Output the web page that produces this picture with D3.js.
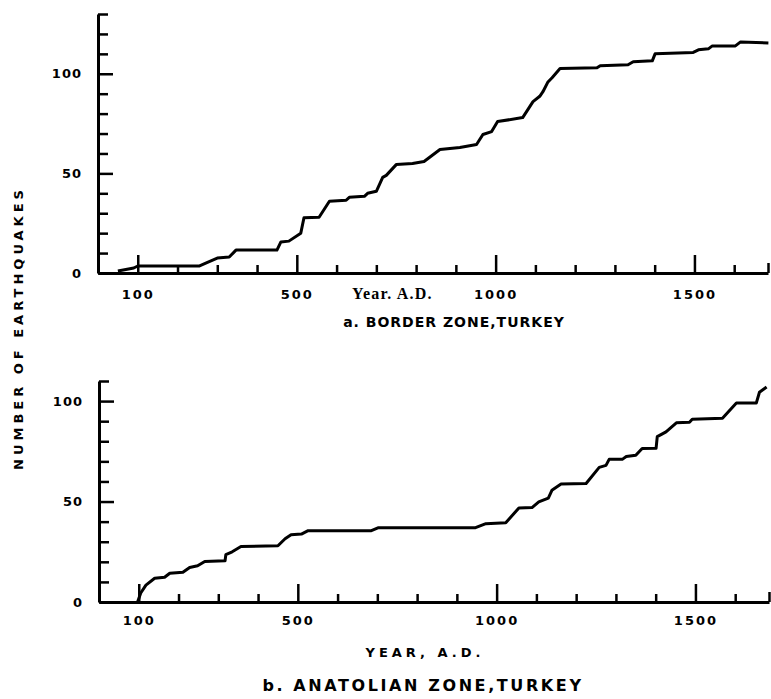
<!DOCTYPE html>
<html>
<head>
<meta charset="utf-8">
<script src="https://cdn.jsdelivr.net/npm/d3@7"></script>
<style>
  body { margin: 0; background: #fff; }
  svg text { font-family: "DejaVu Sans", sans-serif; font-weight: bold; fill: #000; }
</style>
</head>
<body>
<svg id="chart" width="771" height="699"></svg>
<script>
// cumulative number of earthquakes
const borderYears  = [50, 90, 100, 254, 271, 300, 330, 347, 450, 460, 480, 510, 518, 556, 582, 624, 632, 670, 678, 700, 716, 725, 750, 791, 820, 860, 910, 952, 968, 990, 1005, 1068, 1081, 1094, 1111, 1119, 1131, 1142, 1162, 1255, 1263, 1333, 1346, 1394, 1401, 1497, 1510, 1535, 1545, 1603, 1616, 1686];
const borderCounts = [1, 2.5, 3.5, 3.5, 5, 7.5, 8, 11.5, 11.5, 15.6, 16, 20, 27.7, 28, 36, 36.5, 38, 38.5, 40, 41, 48, 49, 54.4, 55, 56, 62, 63, 64.5, 69.5, 71, 76, 78, 82, 86, 88.7, 91, 95.7, 98, 102.6, 103, 104, 104.5, 106, 106.5, 110, 110.7, 112, 112.5, 114, 114, 116, 115.5];

const anatolianYears  = [97, 105, 118, 140, 165, 178, 211, 228, 248, 266, 317, 319, 335, 357, 450, 468, 483, 509, 526, 685, 703, 947, 973, 1023, 1056, 1089, 1106, 1130, 1139, 1162, 1225, 1258, 1275, 1283, 1316, 1326, 1350, 1366, 1401, 1404, 1426, 1452, 1485, 1492, 1568, 1603, 1653, 1661, 1679];
const anatolianCounts = [0, 4.5, 8.4, 11.8, 12.3, 14.3, 14.8, 17.2, 18, 20.2, 20.5, 23.6, 25, 27.6, 28, 31.5, 33.5, 33.8, 35.5, 35.5, 37, 37, 39, 39.5, 46.8, 47, 49.8, 51.7, 55.6, 58.7, 59, 67, 68, 71, 71, 72.4, 73, 76.4, 76.5, 82.3, 84.7, 89.2, 89.5, 91, 91.5, 99, 99, 104.4, 107];

const xTicks = [100, 200, 300, 400, 500, 600, 700, 800, 900, 1000, 1100, 1200, 1300, 1400, 1500, 1600, 1685];
const xLabelled = [100, 500, 1000, 1500];
const yLabelled = [0, 50, 100];

const svg = d3.select('#chart');

function drawPanel(cfg) {
    const x = d3.scaleLinear().domain([0, 1685]).range([cfg.left, cfg.right]);
    const y = d3.scaleLinear().domain([0, cfg.yMax]).range([cfg.bottom, cfg.top]);

    // x axis, ticks pointing up into the plot
    const gx = svg.append('g')
        .attr('transform', `translate(0,${cfg.bottom})`)
        .call(d3.axisBottom(x)
            .tickValues(xTicks)
            .tickSizeInner(-8)
            .tickSizeOuter(0)
            .tickPadding(cfg.xPad)
            .tickFormat(d => xLabelled.includes(d) ? d : ''));
    gx.select('.domain').attr('stroke', '#000').attr('stroke-width', 3);
    gx.selectAll('.tick line')
        .attr('stroke', '#000')
        .attr('stroke-width', 2.5)
        .attr('y2', d => xLabelled.includes(d) ? -18 : (d === 1685 ? -10 : -8));
    gx.selectAll('.tick text')
        .attr('font-size', 13)
        .attr('letter-spacing', 2)
        .attr('fill', '#000');

    // y axis, ticks pointing right
    const gy = svg.append('g')
        .attr('transform', `translate(${cfg.left},0)`)
        .call(d3.axisLeft(y)
            .tickValues(d3.range(0, cfg.yMax + 1, 10))
            .tickSizeInner(-10)
            .tickSizeOuter(0)
            .tickPadding(16)
            .tickFormat(d => yLabelled.includes(d) ? d : ''));
    gy.select('.domain').attr('stroke', '#000').attr('stroke-width', 3);
    gy.selectAll('.tick line')
        .attr('stroke', '#000')
        .attr('stroke-width', 2.5)
        .attr('x2', d => yLabelled.includes(d) && d > 0 ? 15 : 10);
    gy.selectAll('.tick text')
        .attr('font-size', 13)
        .attr('letter-spacing', 1)
        .attr('fill', '#000');

    const line = d3.line()
        .x((d, i) => x(cfg.years[i]))
        .y(d => y(d))
        .curve(d3.curveLinear);

    svg.append('path')
        .datum(cfg.counts)
        .attr('d', line)
        .attr('fill', 'none')
        .attr('stroke', '#000')
        .attr('stroke-width', 3)
        .attr('stroke-linejoin', 'round');
}

drawPanel({ left: 98, right: 768, top: 14, bottom: 273, yMax: 130, xPad: 17,
            years: borderYears, counts: borderCounts });
drawPanel({ left: 99, right: 769, top: 381, bottom: 602, yMax: 110, xPad: 14,
            years: anatolianYears, counts: anatolianCounts });

// axis titles and panel captions
svg.append('text')
    .attr('x', 352).attr('y', 299)
    .style('font-family', '"Liberation Serif", serif')
    .style('font-weight', 'bold')
    .attr('font-size', 16)
    .attr('letter-spacing', 1.2)
    .text('Year. A.D.');

svg.append('text')
    .attr('x', 454).attr('y', 327)
    .attr('text-anchor', 'middle')
    .attr('font-size', 14)
    .attr('letter-spacing', 1)
    .text('a.  BORDER ZONE,TURKEY');

svg.append('text')
    .attr('x', 425).attr('y', 657)
    .attr('text-anchor', 'middle')
    .attr('font-size', 13)
    .attr('letter-spacing', 4)
    .text('YEAR, A.D.');

svg.append('text')
    .attr('x', 423).attr('y', 691)
    .attr('text-anchor', 'middle')
    .attr('font-size', 16)
    .attr('letter-spacing', 2.6)
    .text('b.  ANATOLIAN ZONE,TURKEY');

svg.append('text')
    .attr('transform', 'translate(23,328) rotate(-90)')
    .attr('text-anchor', 'middle')
    .attr('font-size', 13)
    .attr('letter-spacing', 4)
    .text('NUMBER OF EARTHQUAKES');
</script>
</body>
</html>
